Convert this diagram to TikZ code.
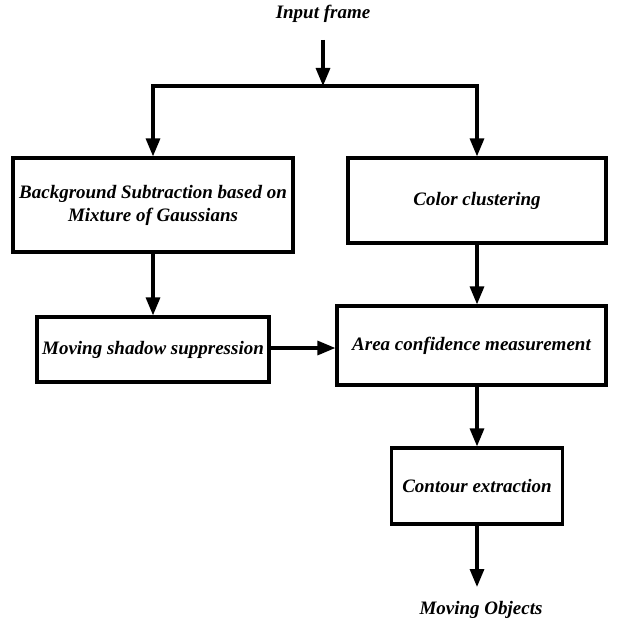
\documentclass[tikz,border=0pt]{standalone}
\usepackage{fontspec}
\setmainfont{Liberation Serif}
\usetikzlibrary{arrows.meta}
\begin{document}
\begin{tikzpicture}[x=1pt,y=1pt,
  box/.style={draw, line width=3.2pt, inner sep=0pt, align=center,
    font=\fontsize{19}{23}\selectfont\bfseries\itshape},
  lbl/.style={inner sep=0pt, font=\fontsize{19}{23}\selectfont\bfseries\itshape},
  arr/.style={line width=3.2pt, -{Triangle[width=14pt,length=18pt]}},
  ln/.style={line width=3.2pt}]
\useasboundingbox (0,0) rectangle (616,-623);
\node[lbl] (in) at (323,-14) {Input frame};
\node[box, minimum width=280pt, minimum height=94pt] (bg) at (153,-205)
  {Background Subtraction based on\\Mixture of Gaussians};
\node[box, minimum width=258pt, minimum height=85pt] (cc) at (477,-200.5) {Color clustering};
\node[box, minimum width=232pt, minimum height=65pt] (ms) at (153,-349.5) {Moving shadow suppression};
\node[box, minimum width=269pt, minimum height=79pt] (ac) at (471.5,-345.5) {Area confidence measurement};
\node[box, minimum width=171pt, minimum height=76pt] (ce) at (477,-486) {Contour extraction};
\node[lbl] (mo) at (481,-610) {Moving Objects};
\coordinate (top) at (323,-40);
\coordinate (split) at (323,-86);
\draw[arr] (top) -- (split);
\draw[ln, line cap=rect] (bg.north |- split) -- (cc.north |- split);
\draw[arr] (bg.north |- split) -- (bg.north);
\draw[arr] (cc.north |- split) -- (cc.north);
\draw[arr] (bg.south) -- (ms.north);
\draw[arr] (cc.south) -- (cc.south |- ac.north);
\draw[arr] (ms.east |- 0,-348) -- (ac.west |- 0,-348);
\draw[arr] (ce.north |- ac.south) -- (ce.north);
\coordinate (end) at (477,-587);
\draw[arr] (ce.south) -- (end);
\end{tikzpicture}
\end{document}
